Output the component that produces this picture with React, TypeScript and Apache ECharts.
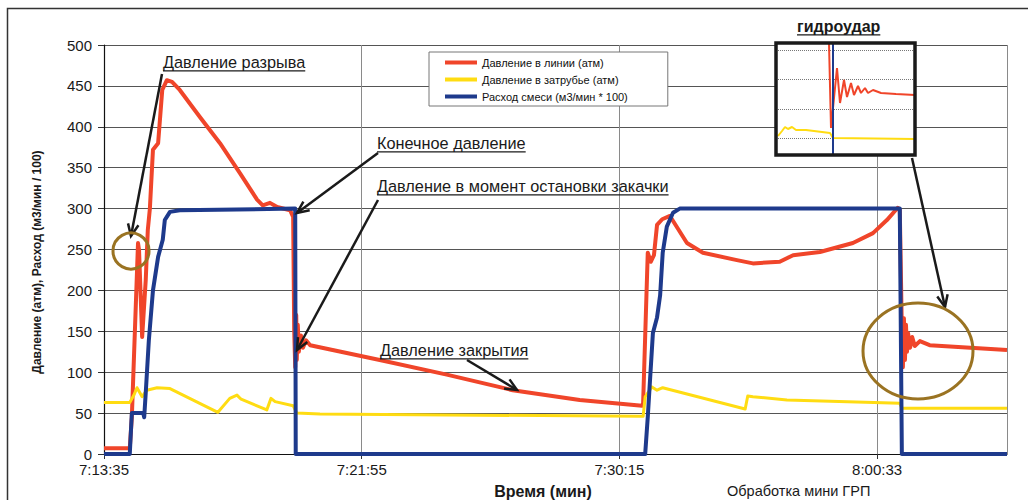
import React, { useEffect, useRef } from "react";
import * as echarts from "echarts";

// ---- data (x = sample index, y = atm / m3/min*100) ----
const xTickLabels = ["7:13:35", "7:21:55", "7:30:15", "8:00:33"];
const seriesNames = [
  "Давление в линии (атм)",
  "Давление в затрубье (атм)",
  "Расход смеси (м3/мин * 100)",
];

const linePressure: [number, number][] = [
  [0, 7], [50, 7], [54, 45], [66, 258], [68, 249], [74, 143], [81, 213], [85, 274],
  [89, 300], [95, 372], [105, 380], [113, 445], [122, 457], [132, 455], [147, 445],
  [186, 412], [225, 380], [264, 343], [297, 311], [308, 304], [322, 307], [336, 302],
  [361, 298], [367, 290], [369, 152], [371, 106], [373, 170], [374, 115], [376, 158],
  [378, 125], [382, 145], [386, 130], [392, 139], [400, 133], [535, 115], [665, 97],
  [793, 78], [923, 66], [1044, 59], [1046, 62], [1055, 246], [1061, 235], [1067, 243],
  [1073, 280], [1083, 287], [1098, 291], [1131, 258], [1162, 246], [1228, 237],
  [1259, 233], [1311, 235], [1337, 243], [1389, 247], [1453, 258], [1492, 270],
  [1519, 286], [1540, 301], [1544, 298], [1548, 152], [1550, 106], [1552, 166],
  [1554, 115], [1556, 158], [1558, 125], [1560, 148], [1564, 130], [1568, 143],
  [1573, 132], [1583, 138], [1602, 133], [1752, 127],
];

const annulusPressure: [number, number][] = [
  [0, 63], [50, 63], [58, 72], [64, 81], [74, 70], [83, 78], [103, 81], [128, 80],
  [221, 51], [244, 68], [258, 72], [266, 67], [316, 54], [324, 68], [332, 64],
  [367, 59], [374, 50], [419, 49], [1040, 46], [1046, 46], [1050, 70], [1063, 82],
  [1073, 78], [1084, 81], [1244, 55], [1249, 71], [1259, 70], [1325, 66], [1544, 62],
  [1548, 56], [1752, 56],
];

const mixRate: [number, number][] = [
  [0, 0], [50, 0], [54, 50], [76, 50], [78, 45], [81, 75], [87, 139], [95, 200],
  [105, 241], [114, 262], [118, 286], [128, 296], [147, 298], [371, 300], [372, 0],
  [1050, 0], [1055, 45], [1065, 148], [1073, 167], [1079, 194], [1084, 246],
  [1092, 278], [1104, 295], [1117, 300], [1544, 300], [1548, 0], [1752, 0],
];

// inset "гидроудар" (relative units)
const insetLine: [number, number][] = [
  [53, 112], [55, 27], [61, 87], [64, 52], [68, 75], [71, 58], [75, 72], [78, 60],
  [82, 69], [85, 62], [89, 67], [92, 62], [97, 65], [105, 62], [120, 61], [139, 60],
];
const insetAnnulus: [number, number][] = [
  [2, 19], [6, 24], [9, 28], [12, 26], [16, 28], [20, 25], [30, 25], [54, 22],
  [57, 17], [139, 16],
];
const insetRate: [number, number][] = [[57, 112], [57, 0]];
const insetGridLevels = [17, 46, 76, 105];

const RED = "#F0452A";
const YELLOW = "#FFDC12";
const BLUE = "#1E3A8C";
const BROWN = "#9A7322";
const FONT = "'Liberation Sans', Arial, sans-serif";

function measure(text: string, size: number, weight = "normal") {
  const c = document.createElement("canvas").getContext("2d")!;
  c.font = `${weight} ${size}px 'Liberation Sans', Arial, sans-serif`;
  return c.measureText(text).width;
}

function arrow(x1: number, y1: number, x2: number, y2: number) {
  const ang = Math.atan2(y2 - y1, x2 - x1);
  const L = 13;
  const a = 0.42;
  const p1 = [x2 - L * Math.cos(ang - a), y2 - L * Math.sin(ang - a)];
  const p2 = [x2 - L * Math.cos(ang + a), y2 - L * Math.sin(ang + a)];
  return [
    { type: "line", z: 20, shape: { x1, y1, x2, y2 }, style: { stroke: "#1a1a1a", lineWidth: 2.5 } },
    {
      type: "polyline",
      z: 20,
      shape: { points: [p1, [x2, y2], p2] },
      style: { stroke: "#1a1a1a", lineWidth: 2.5, fill: null },
    },
  ];
}

function label(text: string, x: number, y: number, size = 16.3, weight = "normal") {
  const w = measure(text, size, weight);
  return [
    {
      type: "text",
      z: 20,
      x,
      y,
      style: {
        text,
        fill: "#1a1a1a",
        font: `${weight} ${size}px ${FONT}`,
        align: "left",
        verticalAlign: "middle",
      },
    },
    {
      type: "line",
      z: 20,
      shape: { x1: x, y1: y + size * 0.55, x2: x + w, y2: y + size * 0.55 },
      style: { stroke: "#1a1a1a", lineWidth: 1.2 },
    },
  ];
}

export default function App() {
  const ref = useRef<HTMLDivElement>(null);
  useEffect(() => {
    if (!ref.current) return;
    const chart = echarts.init(ref.current, null, { renderer: "svg" });
    const graphic: any[] = [
      {
        type: "rect",
        z: 0,
        shape: { x: 7.5, y: 8.5, width: 1040, height: 520 },
        style: { fill: null, stroke: "#333", lineWidth: 1.5 },
      },
      {
        type: "text",
        x: 37,
        y: 262,
        rotation: Math.PI / 2,
        style: {
          text: "Давление (атм), Расход (м3/мин / 100)",
          font: `bold 12px ${FONT}`,
          fill: "#1a1a1a",
          align: "center",
          verticalAlign: "middle",
        },
      },
      {
        type: "text",
        x: 543,
        y: 491,
        style: {
          text: "Время (мин)",
          font: `bold 16px ${FONT}`,
          fill: "#1a1a1a",
          align: "center",
          verticalAlign: "middle",
        },
      },
      {
        type: "text",
        x: 727,
        y: 491,
        style: {
          text: "Обработка мини ГРП",
          font: `normal 14.5px ${FONT}`,
          fill: "#1a1a1a",
          align: "left",
          verticalAlign: "middle",
        },
      },
      // inset background & frame
      {
        type: "rect",
        z: 1,
        shape: { x: 776, y: 43, width: 139, height: 112 },
        style: { fill: "#fff", stroke: null },
      },
      {
        type: "rect",
        z: 30,
        shape: { x: 776, y: 43, width: 139, height: 112 },
        style: { fill: null, stroke: "#1a1a1a", lineWidth: 3.5 },
      },
      ...label("Давление разрыва", 163, 62),
      ...label("Конечное давление", 377, 143),
      ...label("Давление в момент остановки закачки", 377, 186),
      ...label("Давление закрытия", 380, 350),
      ...label("гидроудар", 797, 26, 16, "bold"),
      ...arrow(162, 74, 131, 236),
      ...arrow(378, 153, 297, 213),
      ...arrow(378, 200, 297, 350),
      ...arrow(467, 360, 517, 390),
      ...arrow(912, 158, 945, 307),
      {
        type: "circle",
        z: 20,
        shape: { cx: 131, cy: 251, r: 18 },
        style: { fill: null, stroke: BROWN, lineWidth: 3 },
      },
      {
        type: "ellipse",
        z: 20,
        shape: { cx: 918, cy: 351, rx: 55, ry: 48 },
        style: { fill: null, stroke: BROWN, lineWidth: 3 },
      },
    ];

    const mainLine = (name: string, data: [number, number][], color: string, width: number) => ({
      name,
      type: "line",
      xAxisIndex: 0,
      yAxisIndex: 0,
      data,
      symbol: "none",
      showSymbol: false,
      clip: false,
      lineStyle: { color, width, join: "round" },
      itemStyle: { color },
      z: 3,
    });
    const insetSeries = (name: string, data: [number, number][], color: string, extra: any = {}) => ({
      name,
      type: "line",
      xAxisIndex: 1,
      yAxisIndex: 1,
      data,
      symbol: "none",
      showSymbol: false,
      clip: true,
      lineStyle: { color, width: 2 },
      itemStyle: { color },
      z: 10,
      ...extra,
    });

    chart.setOption({
      animation: false,
      textStyle: { fontFamily: FONT },
      grid: [
        { left: 104, top: 45, width: 903, height: 409, show: false },
        { left: 776, top: 43, width: 139, height: 112, show: false, z: 5 },
      ],
      xAxis: [
        {
          type: "value",
          gridIndex: 0,
          min: 0,
          max: 1752,
          interval: 500,
          axisLine: { show: true, lineStyle: { color: "#111", width: 1.2 } },
          axisTick: { show: true, length: 5, lineStyle: { color: "#333" } },
          axisLabel: {
            color: "#1a1a1a",
            fontSize: 15,
            margin: 8,
            showMaxLabel: false,
            formatter: (v: number) => {
              const i = Math.round(v / 500);
              return v % 500 === 0 && xTickLabels[i] ? xTickLabels[i] : "";
            },
          },
          splitLine: { show: true, lineStyle: { color: "#8a8a8a", width: 1 } },
        },
        { type: "value", gridIndex: 1, min: 0, max: 139, show: false },
      ],
      yAxis: [
        {
          type: "value",
          gridIndex: 0,
          min: 0,
          max: 500,
          interval: 50,
          axisLine: { show: true, lineStyle: { color: "#111", width: 1.2 } },
          axisTick: { show: true, length: 6, lineStyle: { color: "#333" } },
          axisLabel: { color: "#1a1a1a", fontSize: 15, margin: 12 },
          splitLine: { show: true, lineStyle: { color: "#555", width: 1 } },
        },
        { type: "value", gridIndex: 1, min: 0, max: 112, show: false },
      ],
      legend: {
        data: seriesNames.map((n) => ({ name: n, icon: "rect" })),
        orient: "vertical",
        left: 429,
        top: 52,
        padding: [4, 40, 3, 16],
        itemWidth: 32,
        itemHeight: 4,
        itemGap: 4,
        backgroundColor: "#fff",
        borderColor: "#777",
        borderWidth: 1,
        textStyle: { fontSize: 11, color: "#111", fontFamily: FONT, lineHeight: 13 },
        z: 8,
      },
      graphic,
      series: [
        mainLine(seriesNames[0], linePressure, RED, 4),
        mainLine(seriesNames[1], annulusPressure, YELLOW, 3),
        mainLine(seriesNames[2], mixRate, BLUE, 4),
        insetSeries("inset-annulus", insetAnnulus, YELLOW, {
          markLine: {
            silent: true,
            symbol: "none",
            label: { show: false },
            lineStyle: { color: "#777", type: "dotted", width: 1 },
            data: insetGridLevels.map((v) => ({ yAxis: v })),
          },
        }),
        insetSeries("inset-line", insetLine, RED),
        insetSeries("inset-rate", insetRate, BLUE),
      ],
    });
    return () => chart.dispose();
  }, []);
  return (
    <div
      ref={ref}
      style={{ position: "fixed", left: 0, top: 0, width: 1028, height: 500, background: "#fff" }}
    />
  );
}
